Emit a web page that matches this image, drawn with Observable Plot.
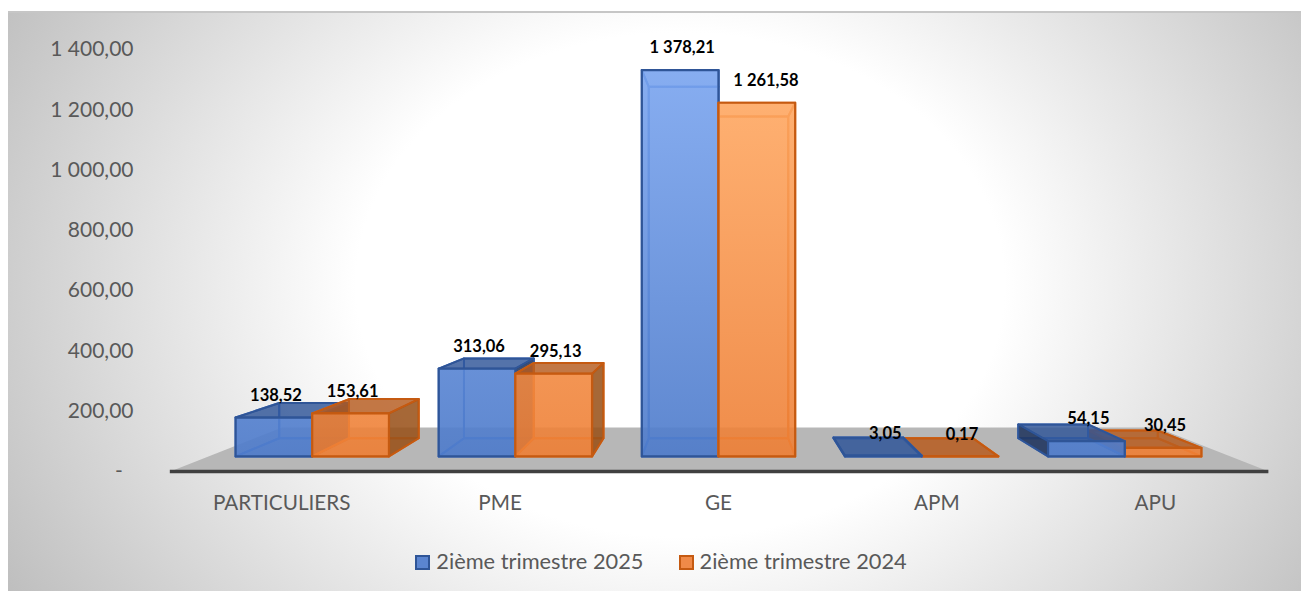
<!DOCTYPE html>
<html lang="fr">
<head>
<meta charset="utf-8">
<script src="https://cdn.jsdelivr.net/npm/d3@7"></script>
<script src="https://cdn.jsdelivr.net/npm/@observablehq/plot@0.6"></script>
<style>
  html, body { margin: 0; padding: 0; background: #fff; overflow: hidden; }
  #sheet { position: absolute; left: 8px; top: 11px; width: 1293px; height: 580px; box-sizing: border-box;
    border-top: 2px solid #c6c6c6;
    background: radial-gradient(900px 700px at 52% 47%, #fff 0%, #fff 36%, #bababa 90%); }
  #wrap { position: absolute; left: 0; top: 0; width: 1301px; height: 591px; }
  #legend { height: 41px; display: flex; justify-content: center; align-items: center; gap: 35px;
    font: 21.8px Lato, sans-serif; color: #595959; padding-left: 21px; box-sizing: border-box; }
  #legend span.k { display: inline-block; width: 11px; height: 11px; border: 2px solid; margin-right: 6px; vertical-align: -1px; }
</style>
</head>
<body>
<div id="sheet"></div>
<div id="wrap"></div>
<script>
const categories = ["PARTICULIERS", "PME", "GE", "APM", "APU"];
const seriesNames = ["2ième trimestre 2025", "2ième trimestre 2024"];
const values2025 = [138.52, 313.06, 1378.21, 3.05, 54.15];
const values2024 = [153.61, 295.13, 1261.58, 0.17, 30.45];
const yTicks = [0, 200, 400, 600, 800, 1000, 1200, 1400];
const lineColors = ["#2f5597", "#c55a11"];

const fr = d3.formatLocale({decimal: ",", thousands: " ", grouping: [3], currency: ["", ""]});
const fmt = fr.format(",.2f");
const font = "Lato, sans-serif";

// Perspective of the 3D chart, expressed in the units of the x and y scales
const H = 540;
const vanishX = 2.5, vanishY = 716;
const sFront = 0.93, sBack = 0.846, sFloorBack = 0.796;
const barW = 0.3775;
const project = (X, V, s) => ({x: vanishX + (X - vanishX) * s, y: vanishY + (V - vanishY) * s});

const face = (pts, fill, stroke, strokeWidth = 2, strokeOpacity = 1) =>
  Plot.line(pts, {x: "x", y: "y", curve: "linear-closed", fill, stroke, strokeWidth, strokeOpacity, strokeLinejoin: "round"});

function bar(i, j, v) {
  const X0 = i + 0.5 - barW + j * barW, X1 = X0 + barW;
  const f = (X, V) => project(X, V, sFront), b = (X, V) => project(X, V, sBack);
  const st = lineColors[j];
  const tint = j === 0 ? "48,90,170" : "225,110,35";
  const innerLine = j === 0 ? "#3a6cc4" : "#dd6f22";
  const faint = `rgba(${tint},0.12)`;
  const marks = [];
  marks.push(face([f(X0,0), f(X1,0), b(X1,0), b(X0,0)], `rgba(${tint},0.25)`, innerLine, 2));
  marks.push(face([b(X0,0), b(X1,0), b(X1,v), b(X0,v)], faint, innerLine, 2));
  const outer = j === 0 ? "rgba(30,50,90,0.85)" : "rgba(150,80,25,0.85)";
  const leftOuter = X0 > vanishX, rightOuter = X1 < vanishX;
  const top = face([f(X0,v), f(X1,v), b(X1,v), b(X0,v)],
    v < vanishY ? (j === 0 ? "rgba(47,85,151,0.8)" : "rgba(180,90,30,0.8)") : faint, v < vanishY ? st : innerLine, 2);
  if (!leftOuter) marks.push(face([f(X0,0), b(X0,0), b(X0,v), f(X0,v)], faint, innerLine, 2));
  if (!rightOuter) marks.push(face([f(X1,0), b(X1,0), b(X1,v), f(X1,v)], faint, innerLine, 2));
  marks.push(top);
  if (leftOuter) marks.push(face([f(X0,0), b(X0,0), b(X0,v), f(X0,v)], outer, st, 2));
  if (rightOuter) marks.push(face([f(X1,0), b(X1,0), b(X1,v), f(X1,v)], outer, st, 2));
  marks.push(face([f(X0,0), f(X1,0), f(X1,v), f(X0,v)], `url(#front${j})`, st, 2.2));
  return marks;
}

const barMarks = categories.flatMap((c, i) => {
  const blue = bar(i, 0, values2025[i]), orange = bar(i, 1, values2024[i]);
  return i > 2 ? [...orange, ...blue] : [...blue, ...orange];
});

const labels = categories.flatMap((c, i) => [values2025[i], values2024[i]].map((v, j) => {
  const nudge = i === 2 && j === 1 ? 0.035 : 0;
  const X = i + 0.5 - barW + j * barW + barW / 2 + nudge;
  return {...project(X, v, sFront), text: fmt(v)};
}));

const defs = () => {
  const g = document.createElementNS("http://www.w3.org/2000/svg", "defs");
  g.innerHTML = `
    <linearGradient id="front0" gradientUnits="userSpaceOnUse" x1="0" y1="69" x2="0" y2="456">
      <stop offset="0" stop-color="#7aa5f0" stop-opacity="0.88"/><stop offset="1" stop-color="#4f7ccb" stop-opacity="0.9"/>
    </linearGradient>
    <linearGradient id="front1" gradientUnits="userSpaceOnUse" x1="0" y1="101" x2="0" y2="456">
      <stop offset="0" stop-color="#ffa862" stop-opacity="0.88"/><stop offset="1" stop-color="#ee7f35" stop-opacity="0.88"/>
    </linearGradient>`;
  return g;
};

const chart = Plot.plot({
  width: 1301,
  height: H,
  marginLeft: 133,
  marginBottom: H - 471,
  marginTop: 0,
  marginRight: 0,
  style: {background: "transparent", overflow: "visible"},
  x: {type: "linear", domain: [0, 5], range: [172, 1264]},
  y: {type: "linear", domain: [0, 1400], range: [471, 49]},
  marks: [
    defs,
    face([project(-0.01, 0, 1), project(5.02, 0, 1), project(5.02, 0, sFloorBack), project(-0.01, 0, sFloorBack)], "#b7b7b7", "none", 0),
    ...barMarks,
    Plot.ruleY([0], {x1: -0.01, x2: 5.02, stroke: "#404040", strokeWidth: 3.5}),
    Plot.axisY({
      ticks: yTicks, tickSize: 0, tickPadding: 0, label: null,
      tickFormat: d => d === 0 ? "-\u00a0\u00a0" : fmt(d),
      fontSize: 21, fontFamily: font, fill: "#595959"
    }),
    Plot.axisX({
      ticks: categories.map((c, i) => i + 0.5), tickSize: 0, tickPadding: 24, label: null,
      tickFormat: v => categories[Math.floor(v)],
      fontSize: 20.7, fontFamily: font, fill: "#595959"
    }),
    Plot.text(labels, {
      x: "x", y: "y", text: "text", dx: 2, dy: -22,
      fontSize: 16.5, fontWeight: 700, fontFamily: font, fill: "#000"
    })
  ]
});

const wrap = document.getElementById("wrap");
wrap.append(chart);
const legend = document.createElement("div");
legend.id = "legend";
seriesNames.forEach((name, j) => {
  const item = document.createElement("div");
  const key = document.createElement("span");
  key.className = "k";
  key.style.borderColor = lineColors[j];
  key.style.background = j === 0 ? "#5b85d0" : "#f08a48";
  item.append(key, name);
  legend.append(item);
});
wrap.append(legend);
</script>
</body>
</html>
